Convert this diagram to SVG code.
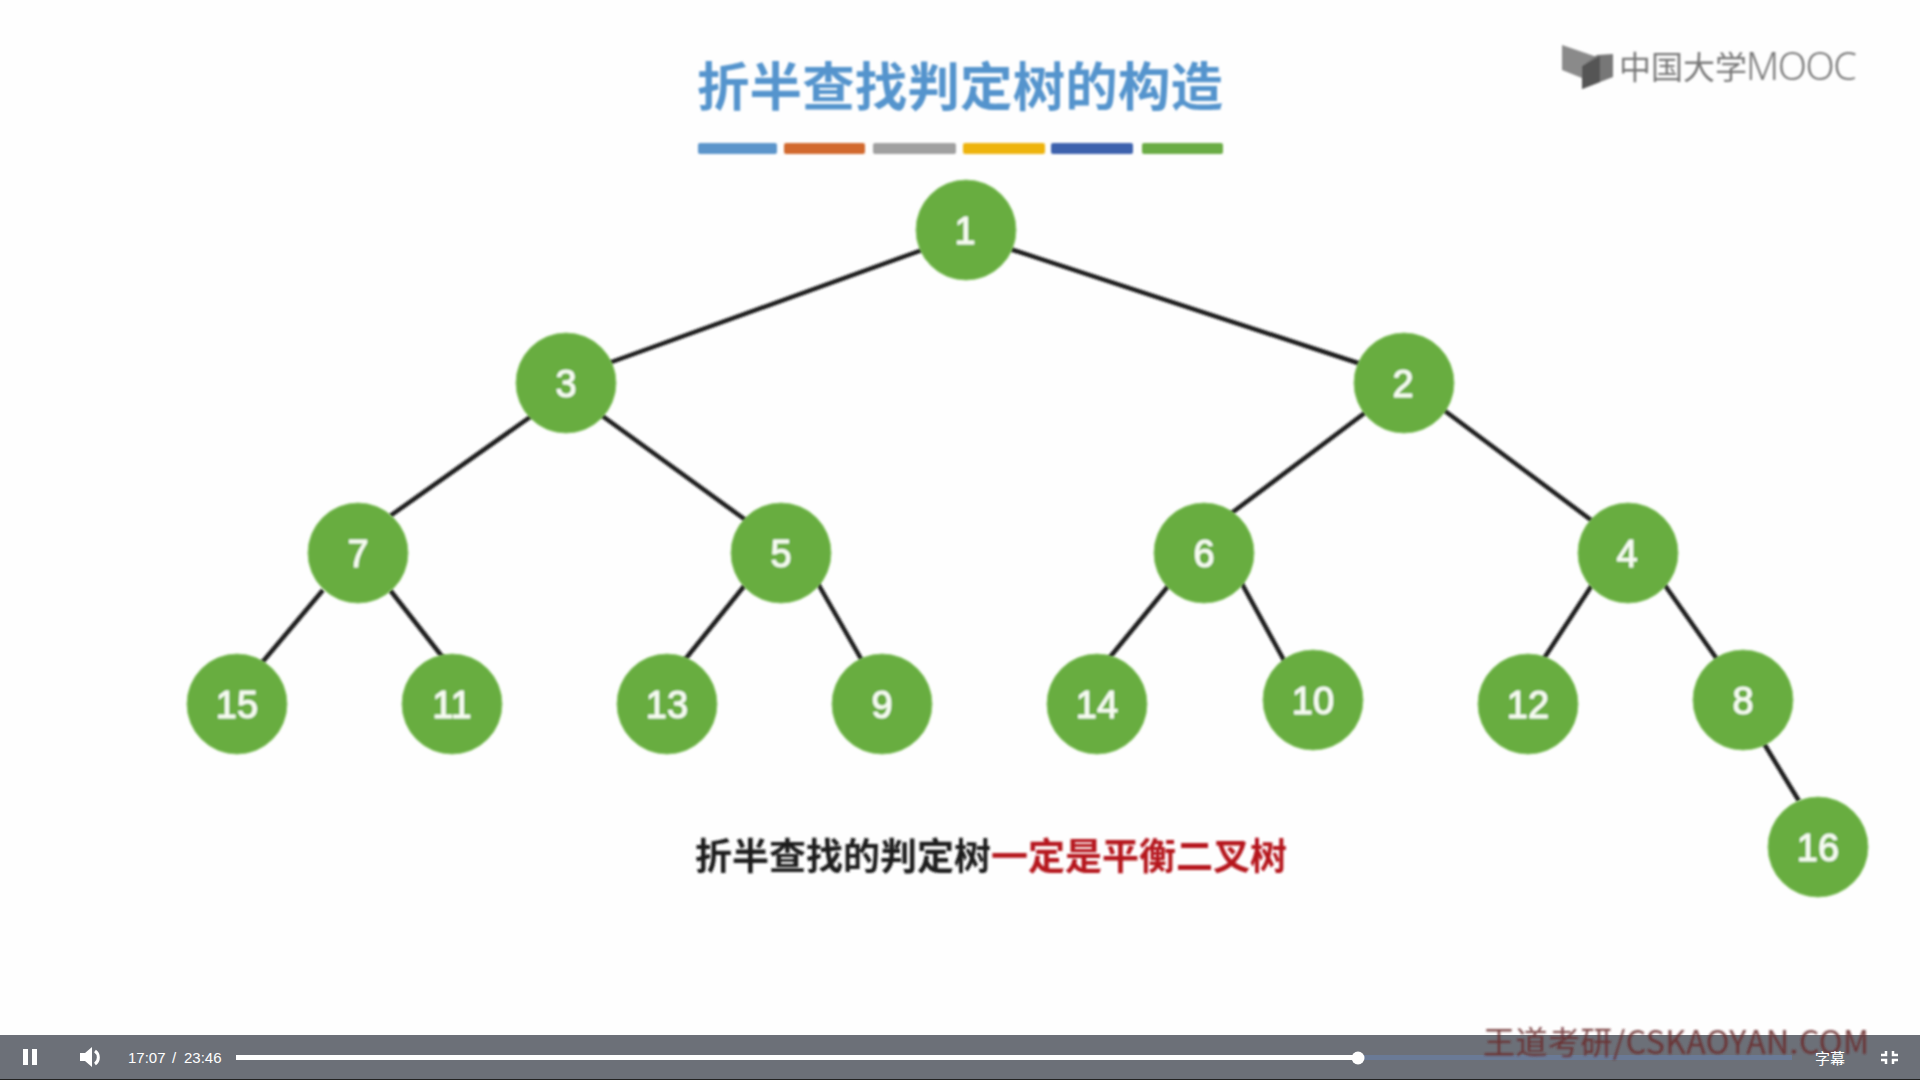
<svg xmlns="http://www.w3.org/2000/svg" width="1920" height="1080" viewBox="0 0 1920 1080">
<style>
.e{stroke:#1c1c1c;stroke-width:4.5;fill:none}
.n{fill:#67ad3f;stroke:#8cc86a;stroke-width:1}
.l{fill:#f6fbf2;stroke:#f6fbf2;stroke-width:1;font:400 38px "Liberation Sans","Noto Sans",sans-serif;text-anchor:middle}
.c{font-family:"Noto Sans CJK SC",sans-serif}
.b{fill:#fff}
</style>
<defs><filter id="s" x="-5%" y="-5%" width="110%" height="110%"><feGaussianBlur stdDeviation="0.8"/></filter></defs>
<rect width="1920" height="1080" fill="#fefefe"/>
<g id="title" filter="url(#s)">
<text class="c" x="697" y="106" font-size="52.5" font-weight="700" fill="#5594cd" textLength="526">折半查找判定树的构造</text>
<rect x="698" y="143" width="79" height="11" rx="2" fill="#5b95cb"/>
<rect x="784" y="143" width="81" height="11" rx="2" fill="#d2692f"/>
<rect x="873" y="143" width="83" height="11" rx="2" fill="#a0a0a0"/>
<rect x="963" y="143" width="82" height="11" rx="2" fill="#eeb411"/>
<rect x="1051" y="143" width="82" height="11" rx="2" fill="#3d62ad"/>
<rect x="1142" y="143" width="81" height="11" rx="2" fill="#6aac45"/>
</g>
<g id="logo" filter="url(#s)">
<polygon points="1562,45 1597,57 1582,66 1582,78 1562,70" fill="#8a8a8a"/>
<polygon points="1597,55 1613,54 1613,77 1582,89 1582,66" fill="#777"/>
<polygon points="1582,66 1600,56 1600,82 1582,89" fill="#555"/>
<text class="c" x="1619" y="79" font-size="32" font-weight="400" fill="#777">中国大学</text>
<text x="1746" y="80" font-family="Noto Sans,sans-serif" font-size="38" font-weight="300" fill="#777" textLength="111">MOOC</text>
</g>
<g id="connectors" filter="url(#s)">
<line class="e" x1="925" y1="249" x2="606" y2="364"/>
<line class="e" x1="1010" y1="249" x2="1361" y2="364"/>
<line class="e" x1="533" y1="415" x2="390" y2="516"/>
<line class="e" x1="601" y1="415" x2="747" y2="521"/>
<line class="e" x1="1366" y1="412" x2="1229" y2="515"/>
<line class="e" x1="1441" y1="408" x2="1595" y2="523"/>
<line class="e" x1="323" y1="590" x2="260" y2="665"/>
<line class="e" x1="390" y1="590" x2="444" y2="659"/>
<line class="e" x1="745" y1="585" x2="683" y2="662"/>
<line class="e" x1="817" y1="582" x2="864" y2="664"/>
<line class="e" x1="1169" y1="585" x2="1106" y2="662"/>
<line class="e" x1="1241" y1="582" x2="1286" y2="664"/>
<line class="e" x1="1592" y1="585" x2="1541" y2="663"/>
<line class="e" x1="1664" y1="584" x2="1719" y2="662"/>
<line class="e" x1="1763" y1="742" x2="1799" y2="801"/>
</g>
<g id="nodes" filter="url(#s)">
<g id="n1"><circle class="n" cx="966" cy="230" r="50"/><text class="l" x="965" y="244">1</text></g>
<g id="n3"><circle class="n" cx="566" cy="383" r="50"/><text class="l" x="566" y="397">3</text></g>
<g id="n2"><circle class="n" cx="1404" cy="383" r="50"/><text class="l" x="1403" y="397">2</text></g>
<g id="n7"><circle class="n" cx="358" cy="553" r="50"/><text class="l" x="358" y="567">7</text></g>
<g id="n5"><circle class="n" cx="781" cy="553" r="50"/><text class="l" x="781" y="567">5</text></g>
<g id="n6"><circle class="n" cx="1204" cy="553" r="50"/><text class="l" x="1204" y="567">6</text></g>
<g id="n4"><circle class="n" cx="1628" cy="553" r="50"/><text class="l" x="1627" y="567">4</text></g>
<g id="n15"><circle class="n" cx="237" cy="704" r="50"/><text class="l" x="237" y="718">15</text></g>
<g id="n11"><circle class="n" cx="452" cy="704" r="50"/><text class="l" x="452" y="718">11</text></g>
<g id="n13"><circle class="n" cx="667" cy="704" r="50"/><text class="l" x="667" y="718">13</text></g>
<g id="n9"><circle class="n" cx="882" cy="704" r="50"/><text class="l" x="882" y="718">9</text></g>
<g id="n14"><circle class="n" cx="1097" cy="704" r="50"/><text class="l" x="1097" y="718">14</text></g>
<g id="n10"><circle class="n" cx="1313" cy="700" r="50"/><text class="l" x="1313" y="714">10</text></g>
<g id="n12"><circle class="n" cx="1528" cy="704" r="50"/><text class="l" x="1528" y="718">12</text></g>
<g id="n8"><circle class="n" cx="1743" cy="700" r="50"/><text class="l" x="1743" y="714">8</text></g>
<g id="n16"><circle class="n" cx="1818" cy="847" r="50"/><text class="l" x="1818" y="861">16</text></g>
</g>
<g id="caption" filter="url(#s)">
<text class="c" x="695" y="870" font-size="37" font-weight="700" fill="#1a1a1a">折半查找的判定树<tspan fill="#b5121b">一定是平衡二叉树</tspan></text>
</g>
<g id="player">
<rect y="1035" width="1920" height="44" fill="#6c7078"/>
<rect y="1079" width="1920" height="1" fill="#222"/>
<rect x="236" y="1055" width="1556" height="5" fill="#6a7a96"/>
<rect x="236" y="1055" width="1122" height="5" fill="#fff"/>
<circle cx="1358" cy="1058" r="6.5" fill="#fff"/>
<text class="c" x="1483" y="1054" font-size="32" fill="#6a2a2c" fill-opacity="0.85" textLength="386" filter="url(#s)">王道考研/CSKAOYAN.COM</text>
<rect class="b" x="23" y="1049" width="5" height="16"/>
<rect class="b" x="32" y="1049" width="5" height="16"/>
<polygon class="b" points="80,1053 85,1053 92,1047 92,1067 85,1061 80,1061"/>
<path d="M95,1051a8,8 0 0 1 0,13" fill="none" stroke="#fff" stroke-width="3"/>
<text x="128" y="1063" font-family="Liberation Sans,sans-serif" font-size="15" fill="#fff">17:07</text>
<text x="172" y="1063" font-family="Liberation Sans,sans-serif" font-size="15" fill="#fff">/</text>
<text x="184" y="1063" font-family="Liberation Sans,sans-serif" font-size="15" fill="#fff">23:46</text>
<text class="c" x="1815" y="1064" font-size="15" fill="#fff">字幕</text>
<g fill="none" stroke="#fff" stroke-width="2.5">
<path d="M1886,1051v4h-5"/><path d="M1893,1051v4h5"/><path d="M1886,1064v-4h-5"/><path d="M1893,1064v-4h5"/>
</g>
</g>
</svg>
